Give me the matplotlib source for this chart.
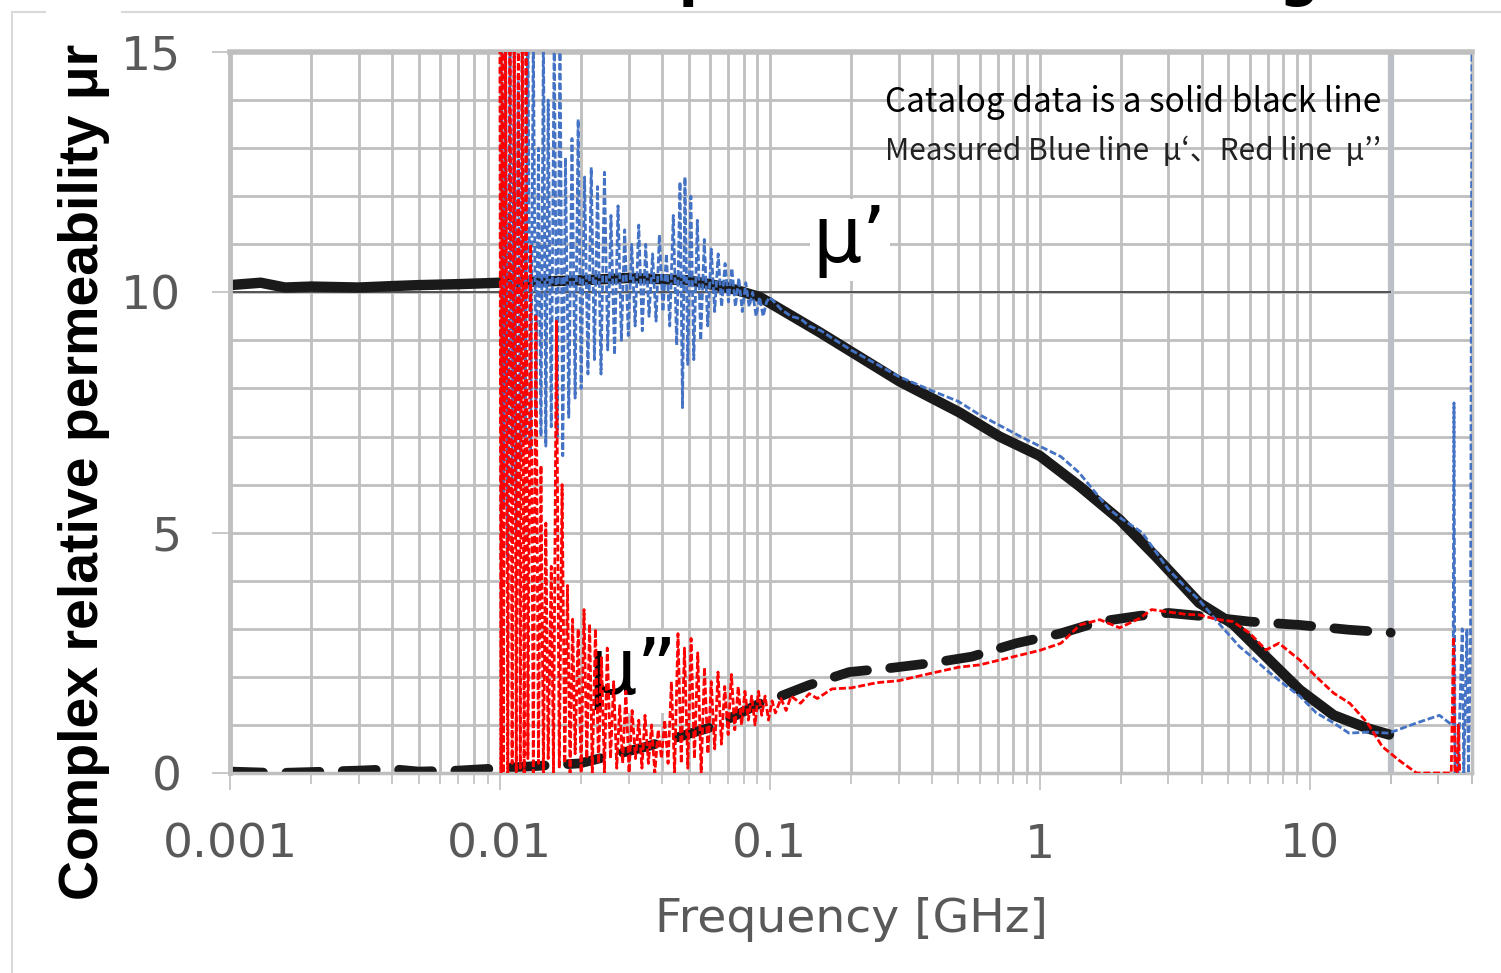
import matplotlib.pyplot as plt
from matplotlib.lines import Line2D
from matplotlib.ticker import FixedLocator, FixedFormatter, NullFormatter

# catalog mu' (solid black line)
cat_re_f = [0.001, 0.0013, 0.0016, 0.002, 0.003, 0.004, 0.005, 0.007, 0.01, 0.02, 0.03,
            0.05, 0.07, 0.092, 0.153, 0.302, 0.505, 0.71, 1.0, 1.41, 1.98, 2.7, 3.9, 5.2,
            6.9, 9.2, 12.3, 16.4, 19.7]
cat_re = [10.15, 10.2, 10.1, 10.12, 10.1, 10.13, 10.15, 10.17, 10.2, 10.25, 10.3,
          10.25, 10.1, 9.9, 9.17, 8.15, 7.5, 7.0, 6.6, 5.96, 5.27, 4.5, 3.54, 3.1,
          2.42, 1.73, 1.2, 0.93, 0.8]

# catalog mu'' (dashed black line)
cat_im_f = [0.001, 0.0015, 0.002, 0.003, 0.004, 0.005, 0.007, 0.01, 0.0198, 0.035, 0.062,
            0.092, 0.11, 0.14, 0.197, 0.286, 0.4, 0.56, 0.82, 1.19, 1.67, 2.35, 3.0, 3.9,
            6.0, 9.2, 14.0, 20.0]
cat_im = [0.03, 0.0, 0.02, 0.05, 0.08, 0.03, 0.05, 0.1, 0.2, 0.55, 0.97,
          1.45, 1.6, 1.83, 2.1, 2.19, 2.29, 2.42, 2.7, 2.9, 3.15, 3.27, 3.33, 3.27,
          3.15, 3.08, 2.98, 2.92]

# measured mu' (blue)
meas_re_f = [0.0101, 0.0103, 0.0105, 0.0107, 0.0109, 0.0111, 0.0113, 0.0115, 0.0117, 0.0119,
             0.0121, 0.0124, 0.0127, 0.0130, 0.0133, 0.0136, 0.0139, 0.0142, 0.0145, 0.0148,
             0.0151, 0.0155, 0.0159, 0.0163, 0.0167, 0.0171, 0.0175, 0.0180, 0.0185, 0.0190,
             0.0195, 0.0200, 0.0206, 0.0212, 0.0218, 0.0224, 0.0230, 0.0237, 0.0244, 0.0251,
             0.0258, 0.0266, 0.0274, 0.0282, 0.0290, 0.0299, 0.0308, 0.0317, 0.0327, 0.0337,
             0.0347, 0.0357, 0.0368, 0.0379, 0.0390, 0.0402, 0.0414, 0.0426, 0.0439, 0.0452,
             0.0465, 0.0475, 0.0485, 0.0497, 0.0510, 0.0523, 0.0539, 0.0555, 0.0572, 0.0589,
             0.0607, 0.0625, 0.0644, 0.0663, 0.0683, 0.0703, 0.0724, 0.0746, 0.0768, 0.0791,
             0.0815, 0.0839, 0.0864, 0.0890, 0.0917, 0.0945, 0.0973,
             0.100, 0.11, 0.12, 0.13, 0.14, 0.155, 0.17, 0.2, 0.25, 0.3, 0.4, 0.5, 0.6, 0.7,
             0.85, 1.0, 1.2, 1.4, 1.6, 1.8, 2.0, 2.4, 3.0, 3.5, 3.9, 4.6, 5.5, 6.1, 6.9, 7.9,
             9.2, 10.6, 12.3, 14.0, 16.4, 19.7, 24.9, 30.3, 33.0, 34.0, 34.3, 34.6, 35.5,
             36.8, 37.3, 38.3, 38.8, 39.5, 40.0]
meas_re = [15.5, 5.5, 15.5, 4.5, 15.5, 6.0, 15.5, 5.0, 14.5, 6.5,
           15.5, 7.0, 15.5, 6.6, 15.5, 7.5, 13.0, 7.0, 15.5, 6.8,
           14.0, 7.2, 15.5, 7.0, 15.5, 6.6, 12.8, 7.4, 13.2, 7.8,
           13.6, 8.0, 12.4, 8.3, 12.6, 8.6, 12.2, 8.3, 12.5, 8.8,
           11.6, 8.7, 11.8, 9.0, 11.3, 9.1, 11.0, 9.3, 11.4, 9.2,
           11.0, 9.5, 10.8, 9.4, 11.2, 9.6, 10.8, 9.3, 11.6, 8.9,
           12.3, 7.6, 12.4, 8.5, 12.0, 8.6, 11.5, 9.0, 11.1, 9.3,
           10.9, 9.6, 10.8, 9.7, 10.6, 9.8, 10.5, 9.7, 10.3, 9.6,
           10.2, 9.7, 10.0, 9.5, 9.9, 9.5, 9.8,
           9.9, 9.65, 9.5, 9.45, 9.3, 9.2, 9.05, 8.8, 8.5, 8.25, 7.95, 7.73, 7.45, 7.25,
           7.0, 6.8, 6.58, 6.25, 5.85, 5.5, 5.3, 5.0, 4.23, 3.85, 3.6, 3.12, 2.63, 2.42, 2.15, 1.88,
           1.6, 1.25, 1.04, 0.83, 0.85, 0.83, 1.04, 1.2, 1.04, 1.0, 7.7, 0.0, 0.0,
           3.0, 0.0, 3.0, 0.0, 2.8, 15.5]

# measured mu'' (red)
meas_im_f = [0.0100, 0.0101, 0.0102, 0.0103, 0.0105, 0.0107, 0.0109, 0.0111, 0.0113, 0.0115,
             0.0117, 0.0119, 0.0121, 0.0123, 0.0125, 0.0127, 0.0130, 0.0133, 0.0136, 0.0139,
             0.0142, 0.0145, 0.0148, 0.0151, 0.0155, 0.0158, 0.0162, 0.0166, 0.0170, 0.0174,
             0.0178, 0.0182, 0.0186, 0.0190, 0.0195, 0.0200, 0.0205, 0.0210, 0.0215, 0.0220,
             0.0226, 0.0232, 0.0238, 0.0244, 0.0250, 0.0257, 0.0264, 0.0271, 0.0278, 0.0285,
             0.0293, 0.0301, 0.0309, 0.0318, 0.0327, 0.0336, 0.0345, 0.0355, 0.0365, 0.0375,
             0.0386, 0.0397, 0.0408, 0.0420, 0.0432, 0.0444, 0.0457, 0.0470, 0.0483, 0.0497,
             0.0511, 0.0526, 0.0541, 0.0557, 0.0573, 0.0590, 0.0607, 0.0625, 0.0643, 0.0662,
             0.0681, 0.0701, 0.0721, 0.0742, 0.0764, 0.0786, 0.0809, 0.0833, 0.0857, 0.0882,
             0.0908, 0.0934, 0.0961, 0.0989, 0.102, 0.105, 0.11, 0.115, 0.12, 0.13, 0.14,
             0.15, 0.17, 0.2, 0.25, 0.3, 0.4, 0.5, 0.6, 0.8, 1.0, 1.2, 1.41, 1.67, 1.98,
             2.35, 2.6, 3.0, 3.5, 3.9, 4.5, 5.2, 6.0, 6.9, 7.7, 9.2, 10.6, 12.3, 14.1, 16.4,
             18.6, 21.4, 24.9, 33.5, 34.2, 34.6, 35.2, 35.6, 36.0]
meas_im = [15.5, 0.0, 15.5, 0.0, 15.5, 0.0, 15.5, 0.2, 15.5, 0.0,
           15.5, 0.1, 15.5, 0.0, 15.5, 0.3, 11.0, 0.0, 9.5, 0.2,
           6.4, 0.0, 5.2, 0.3, 4.3, 0.0, 9.4, 0.1, 6.0, 0.2,
           3.9, 0.0, 3.2, 0.4, 3.0, 0.0, 3.4, 0.3, 3.1, 0.0,
           3.0, 0.2, 2.4, 0.0, 2.6, 0.3, 1.9, 0.1, 1.4, 0.2,
           1.7, 0.0, 1.3, 0.3, 1.1, 0.1, 1.2, 0.2, 1.0, 0.0,
           0.9, 0.3, 1.1, 0.2, 1.9, 0.0, 2.9, 0.2, 2.6, 0.1,
           2.8, 0.3, 2.5, 0.0, 2.2, 0.4, 1.9, 0.5, 2.1, 0.6,
           1.8, 0.8, 2.05, 0.9, 1.8, 1.0, 1.7, 1.1, 1.6, 1.0,
           1.7, 1.2, 1.6, 1.1, 1.5, 1.25, 1.55, 1.3, 1.6, 1.45, 1.65,
           1.55, 1.75, 1.77, 1.88, 1.92, 2.08, 2.2, 2.25, 2.42, 2.55, 2.7, 3.08, 3.19, 3.02,
           3.22, 3.4, 3.35, 3.3, 3.29, 3.2, 3.15, 2.91, 2.56, 2.7, 2.35, 2.0, 1.66, 1.45, 1.04,
           0.55, 0.27, 0.0, 0.0, 2.83, 0.0, 0.0, 1.0, 0.0]

x_ticks = [0.001, 0.01, 0.1, 1, 10]
x_tick_labels = ["0.001", "0.01", "0.1", "1", "10"]
y_ticks = [0, 5, 10, 15]

W, H = 1501, 973
GRID = '#BFBFBF'
LABEL = '#595959'

fig = plt.figure(figsize=(W / 100, H / 100), dpi=100)
ax = fig.add_axes([230 / W, 1 - 773 / H, (1472 - 230) / W, (773 - 52) / H])
ax.set_xscale('log')
ax.set_xlim(0.001, 40)
ax.set_ylim(0, 15)

# grid: vertical lines only up to 20 GHz
minor_pos = [m * 10.0 ** e for e in range(-3, 2) for m in range(1, 10)] + [20, 30, 40]
for v in minor_pos:
    if v <= 20:
        ax.axvline(v, color=GRID, lw=2, zorder=0)
for yv in range(1, 15):
    ax.axhline(yv, color=GRID, lw=2, zorder=0)
ax.axvline(20, color='#BCC0C6', lw=4.5, zorder=0.5)
ax.hlines(10, 0.001, 20, color='#404040', lw=1.2, zorder=0.6)

# data
ax.plot(cat_re_f, cat_re, color='#1a1a1a', lw=7.5, solid_capstyle='round', zorder=2)
ax.plot(cat_im_f, cat_im, color='#1a1a1a', lw=7, dashes=(3.4, 2.4),
        dash_capstyle='round', zorder=2)
ax.plot(meas_re_f, meas_re, color='#4472C4', lw=2, ls=(0, (2.5, 1.0)), zorder=3)
ax.plot(meas_im_f, meas_im, color='#FF0000', lw=2, ls=(0, (2.5, 1.0)), zorder=4)

# ticks
ax.xaxis.set_major_locator(FixedLocator(x_ticks))
ax.xaxis.set_major_formatter(FixedFormatter(x_tick_labels))
ax.xaxis.set_minor_locator(FixedLocator(minor_pos))
ax.xaxis.set_minor_formatter(NullFormatter())
ax.tick_params(axis='x', which='major', length=12, width=1.2, color=GRID, pad=24,
               labelsize=34, labelcolor=LABEL)
ax.tick_params(axis='x', which='minor', length=8, width=1.2, color=GRID)
ax.set_yticks(y_ticks)
ax.tick_params(axis='y', length=13, width=1.2, color=GRID, pad=22,
               labelsize=34, labelcolor=LABEL)
for s in ax.spines.values():
    s.set_color(GRID)
    s.set_linewidth(2.5)
ax.spines['top'].set_linewidth(4)
ax.spines['left'].set_linewidth(3.5)

# labels
fig.text(851 / W, 1 - 920 / H, 'Frequency [GHz]', fontsize=34, color=LABEL,
         ha='center', va='center')
fig.text(84 / W, 1 - 472 / H, 'Complex relative permeability μr', rotation=90,
         fontsize=40, fontweight='bold', family=['Liberation Sans', 'DejaVu Sans'],
         ha='center', va='center')
fig.text(542 / W, 1 + 5 / H, 'Comparison with catalog', fontsize=40,
         fontweight='bold', ha='left', va='baseline')

# annotations
cjk = ['Noto Sans CJK JP', 'DejaVu Sans']
fig.text(885 / W, 1 - 103 / H, 'Catalog data is a solid black line', fontsize=24,
         family=cjk, ha='left', va='center')
fig.text(885 / W, 1 - 152 / H, 'Measured Blue line  μ‘、Red line  μ’’', fontsize=21.5,
         family=cjk, color='#222222', ha='left', va='center')
ax.text(850 / W, 1 - 240 / H, 'μ’', transform=fig.transFigure, fontsize=56,
        ha='center', va='center', zorder=1.5,
        bbox=dict(facecolor='white', edgecolor='none', pad=2))
ax.text(632 / W, 1 - 672 / H, 'μ”', transform=fig.transFigure, fontsize=56,
        ha='center', va='center', zorder=1.5,
        bbox=dict(facecolor='white', edgecolor='none', pad=2))

# outer frame
fc = '#D9D9D9'
fig.add_artist(Line2D([12 / W, 12 / W], [0, 1 - 12 / H], color=fc, lw=1.5))
fig.add_artist(Line2D([12 / W, 45 / W], [1 - 12 / H, 1 - 12 / H], color=fc, lw=1.5))
fig.add_artist(Line2D([122 / W, 1], [1 - 12 / H, 1 - 12 / H], color=fc, lw=1.5))

fig.savefig('out.png', dpi=100)
